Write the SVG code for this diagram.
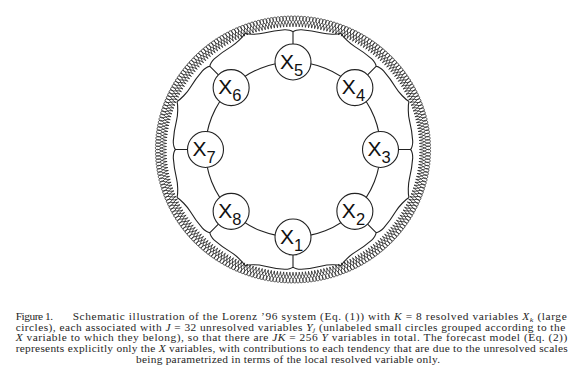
<svg xmlns="http://www.w3.org/2000/svg" width="569" height="387" viewBox="0 0 569 387">
<style>
.ln{fill:none;stroke:#222;stroke-width:1.1}
.y{fill:none;stroke:#2a2a2a;stroke-width:0.8}
.node circle{fill:#fff;stroke:#222;stroke-width:1.1}
.lbl{font-family:"Liberation Sans",Arial,sans-serif;font-size:21px;fill:#111}
.sub{font-size:16.5px}
.cap{font-family:"Liberation Serif","Times New Roman",serif;font-size:11.4px;fill:#262626}
.i{font-style:italic}
.s{font-size:8px;font-style:italic}
</style>
<defs>
<path id="y" class="y" d="M126.5,-1.6C131,-1.6 133.5,2.3 135.8,2C138.2,1.6 138.2,-1.6 135.8,-2C133.5,-2.3 131,1.6 126.5,1.6"/>
<g id="y4"><use href="#y"/><use href="#y" transform="rotate(1.40625)"/><use href="#y" transform="rotate(2.8125)"/><use href="#y" transform="rotate(4.21875)"/></g>
<g id="y32">
<use href="#y4" transform="rotate(-21.796875)"/>
<use href="#y4" transform="rotate(-16.171875)"/>
<use href="#y4" transform="rotate(-10.546875)"/>
<use href="#y4" transform="rotate(-4.921875)"/>
<use href="#y4" transform="rotate(0.703125)"/>
<use href="#y4" transform="rotate(6.328125)"/>
<use href="#y4" transform="rotate(11.953125)"/>
<use href="#y4" transform="rotate(17.578125)"/>
</g>
<path id="br" class="ln" d="M105.5,0H117.5 M117.5,0C118.8,1 119.92,5.37 119.71,8.37A120,120 0 0 1 116.44,29.03C114.99,34.85 114.96,44.15 115.95,48.03 M117.5,0C118.8,-1 119.92,-5.37 119.71,-8.37A120,120 0 0 0 116.44,-29.03C114.99,-34.85 114.96,-44.15 115.95,-48.03"/>
</defs>
<rect width="569" height="387" fill="#fff"/>
<g id="Y-ring" transform="translate(293 149.5) scale(1 0.97)">
<g id="Y-group-1"><use href="#y32" transform="rotate(90)"/></g>
<g id="Y-group-2"><use href="#y32" transform="rotate(45)"/></g>
<g id="Y-group-3"><use href="#y32"/></g>
<g id="Y-group-4"><use href="#y32" transform="rotate(-45)"/></g>
<g id="Y-group-5"><use href="#y32" transform="rotate(-90)"/></g>
<g id="Y-group-6"><use href="#y32" transform="rotate(-135)"/></g>
<g id="Y-group-7"><use href="#y32" transform="rotate(180)"/></g>
<g id="Y-group-8"><use href="#y32" transform="rotate(135)"/></g>
</g>
<g id="connectors" transform="translate(293 149.5)">
<circle class="ln" r="87.5"/>
<use href="#br" transform="rotate(90)"/>
<use href="#br" transform="rotate(45)"/>
<use href="#br"/>
<use href="#br" transform="rotate(-45)"/>
<use href="#br" transform="rotate(-90)"/>
<use href="#br" transform="rotate(-135)"/>
<use href="#br" transform="rotate(180)"/>
<use href="#br" transform="rotate(135)"/>
</g>
<g id="X1" class="node"><circle cx="293" cy="237" r="18"/><text class="lbl" x="280" y="243.5">X<tspan class="sub" dy="7">1</tspan></text></g>
<g id="X2" class="node"><circle cx="354.87" cy="211.37" r="18"/><text class="lbl" x="341.87" y="217.87">X<tspan class="sub" dy="7">2</tspan></text></g>
<g id="X3" class="node"><circle cx="380.5" cy="149.5" r="18"/><text class="lbl" x="367.5" y="156">X<tspan class="sub" dy="7">3</tspan></text></g>
<g id="X4" class="node"><circle cx="354.87" cy="87.63" r="18"/><text class="lbl" x="341.87" y="94.13">X<tspan class="sub" dy="7">4</tspan></text></g>
<g id="X5" class="node"><circle cx="293" cy="62" r="18"/><text class="lbl" x="280" y="68.5">X<tspan class="sub" dy="7">5</tspan></text></g>
<g id="X6" class="node"><circle cx="231.13" cy="87.63" r="18"/><text class="lbl" x="218.13" y="94.13">X<tspan class="sub" dy="7">6</tspan></text></g>
<g id="X7" class="node"><circle cx="205.5" cy="149.5" r="18"/><text class="lbl" x="192.5" y="156">X<tspan class="sub" dy="7">7</tspan></text></g>
<g id="X8" class="node"><circle cx="231.13" cy="211.37" r="18"/><text class="lbl" x="218.13" y="217.87">X<tspan class="sub" dy="7">8</tspan></text></g>
<g id="caption" transform="matrix(1 0 0 0.82 0 0)">
<text class="cap" x="15.7" y="390.24" textLength="37.5">Figure 1.</text>
<text class="cap" x="72.7" y="390.24" textLength="494" lengthAdjust="spacing">Schematic illustration of the Lorenz ’96 system (Eq. (1)) with <tspan class="i">K</tspan> = 8 resolved variables <tspan class="i">X</tspan><tspan class="s" dy="2">k</tspan><tspan dy="-2"> (large</tspan></text>
<text class="cap" x="15.7" y="403.29" textLength="549.5" lengthAdjust="spacing">circles), each associated with <tspan class="i">J</tspan> = 32 unresolved variables <tspan class="i">Y</tspan><tspan class="s" dy="2">j</tspan><tspan dy="-2"> (unlabeled small circles grouped according to the</tspan></text>
<text class="cap" x="15.7" y="416.34" textLength="551.5" lengthAdjust="spacing"><tspan class="i">X</tspan> variable to which they belong), so that there are <tspan class="i">JK</tspan> = 256 <tspan class="i">Y</tspan> variables in total. The forecast model (Eq. (2))</text>
<text class="cap" x="15.7" y="429.39" textLength="552" lengthAdjust="spacing">represents explicitly only the <tspan class="i">X</tspan> variables, with contributions to each tendency that are due to the unresolved scales</text>
<text class="cap" x="136" y="442.44" textLength="304" lengthAdjust="spacing">being parametrized in terms of the local resolved variable only.</text>
</g>
</svg>
